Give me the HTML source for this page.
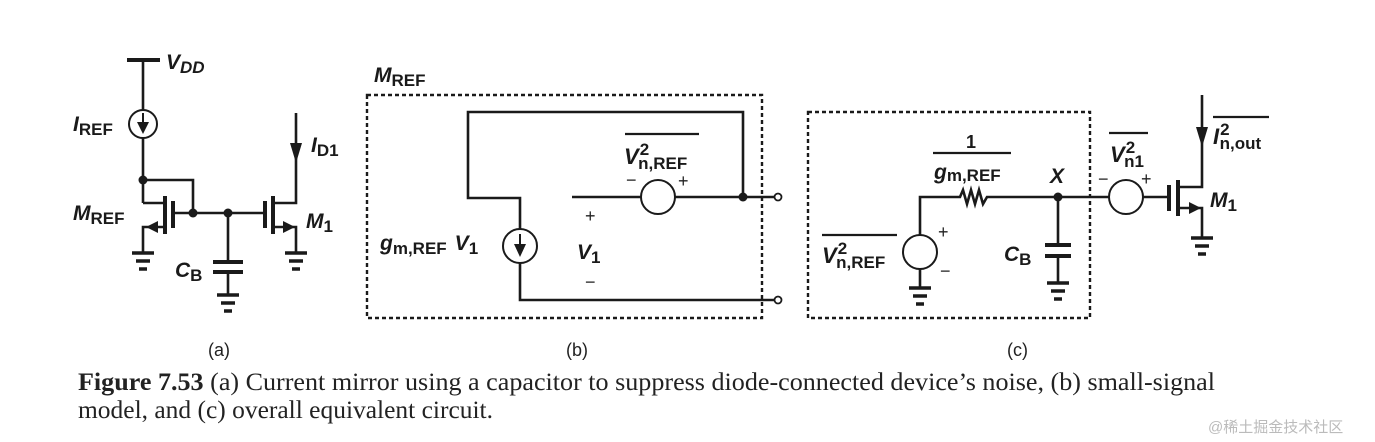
<!DOCTYPE html>
<html><head><meta charset="utf-8"><style>
html,body{margin:0;padding:0;background:#fff;}
svg{display:block;}
.l{font-family:"Liberation Sans",sans-serif;font-weight:bold;fill:#1a1a1a;}
.i{font-style:italic;}
.n{font-family:"Liberation Sans",sans-serif;fill:#222;}
.c{font-family:"Liberation Serif",serif;fill:#222;font-size:25px;}
</style></head><body>
<svg width="1375" height="442" viewBox="0 0 1375 442" xmlns="http://www.w3.org/2000/svg">
<g stroke="#1a1a1a" stroke-width="2.6" fill="none">
<line x1="127" y1="60" x2="160" y2="60" stroke-width="4"/>
<line x1="143" y1="60" x2="143" y2="110"/>
<circle cx="143" cy="124" r="14" stroke-width="2"/>
<line x1="143" y1="113" x2="143" y2="124" stroke-width="2"/>
<line x1="143" y1="138" x2="143" y2="203"/>
<polyline points="143,180 193,180 193,213"/>
<polyline points="143,203 165,203"/>
<line x1="165" y1="196" x2="165" y2="234" stroke-width="4"/>
<line x1="173" y1="201" x2="173" y2="228" stroke-width="4"/>
<line x1="173" y1="213" x2="265" y2="213"/>
<line x1="265" y1="201" x2="265" y2="228" stroke-width="4"/>
<line x1="273" y1="196" x2="273" y2="234" stroke-width="4"/>
<polyline points="273,203 296,203 296,113"/>
<polyline points="165,227 143,227 143,253"/>
<polyline points="273,227 296,227 296,253"/>
<line x1="228" y1="213" x2="228" y2="262"/>
<line x1="213" y1="262" x2="243" y2="262" stroke-width="4"/>
<line x1="213" y1="272" x2="243" y2="272" stroke-width="4"/>
<line x1="228" y1="272" x2="228" y2="295"/>
<rect x="367" y="95" width="395" height="223" stroke-dasharray="4,3" stroke-width="2.4"/>
<polyline points="520,229 520,198 468,198 468,112 743,112 743,197"/>
<circle cx="520" cy="246" r="17" stroke-width="2"/>
<line x1="520" y1="234" x2="520" y2="246" stroke-width="2"/>
<polyline points="520,263 520,300 775,300"/>
<line x1="572" y1="197" x2="641" y2="197"/>
<circle cx="658" cy="197" r="17" stroke-width="2"/>
<line x1="675" y1="197" x2="775" y2="197"/>
<rect x="808" y="112" width="282" height="206" stroke-dasharray="4,3" stroke-width="2.4"/>
<circle cx="920" cy="252" r="17" stroke-width="2"/>
<polyline points="920,235 920,197 960,197 963,190 967,204 971,190 975,204 979,190 983,204 987,197 1109,197"/>
<line x1="920" y1="269" x2="920" y2="288"/>
<line x1="1058" y1="197" x2="1058" y2="245"/>
<line x1="1045" y1="245" x2="1071" y2="245" stroke-width="4"/>
<line x1="1045" y1="256" x2="1071" y2="256" stroke-width="4"/>
<line x1="1058" y1="256" x2="1058" y2="283"/>
<circle cx="1126" cy="197" r="17" stroke-width="2"/>
<line x1="1143" y1="197" x2="1169" y2="197"/>
<line x1="1169" y1="185" x2="1169" y2="211" stroke-width="4"/>
<line x1="1178" y1="180" x2="1178" y2="216" stroke-width="4"/>
<polyline points="1178,187 1202,187 1202,95"/>
<polyline points="1178,208 1202,208 1202,238"/>
<g stroke-width="2.2">
<line x1="625" y1="134" x2="699" y2="134"/>
<line x1="933" y1="153" x2="1011" y2="153"/>
<line x1="1109" y1="133" x2="1148" y2="133"/>
<line x1="1213" y1="117" x2="1269" y2="117"/>
<line x1="822" y1="235" x2="897" y2="235"/>
</g>
</g>
<g fill="#fff" stroke="#1a1a1a" stroke-width="1.8">
<circle cx="778" cy="197" r="3.5"/><circle cx="778" cy="300" r="3.5"/>
</g>
<g fill="#1a1a1a">
<circle cx="143" cy="180" r="4.5"/><circle cx="193" cy="213" r="4.5"/><circle cx="228" cy="213" r="4.5"/>
<circle cx="743" cy="197" r="4.5"/><circle cx="1058" cy="197" r="4.5"/>
<polygon points="137,122 149,122 143,134"/>
<polygon points="514,244 526,244 520,257"/>
<polygon points="290,143 302,143 296,163"/>
<polygon points="1196,127 1208,127 1202,147"/>
<polygon points="146,227 158,221 158,233"/>
<polygon points="295,227 283,221 283,233"/>
<polygon points="1201,208 1189,202 1189,214"/>
</g>
<g stroke="#1a1a1a" stroke-width="3.5">
<line x1="132" y1="253" x2="154" y2="253"/><line x1="136" y1="261" x2="150" y2="261"/><line x1="139" y1="269" x2="147" y2="269"/>
<line x1="285" y1="253" x2="307" y2="253"/><line x1="289" y1="261" x2="303" y2="261"/><line x1="292" y1="269" x2="300" y2="269"/>
<line x1="217" y1="295" x2="239" y2="295"/><line x1="221" y1="303" x2="235" y2="303"/><line x1="224" y1="311" x2="232" y2="311"/>
<line x1="909" y1="288" x2="931" y2="288"/><line x1="913" y1="296" x2="927" y2="296"/><line x1="916" y1="304" x2="924" y2="304"/>
<line x1="1047" y1="283" x2="1069" y2="283"/><line x1="1051" y1="291" x2="1065" y2="291"/><line x1="1054" y1="299" x2="1062" y2="299"/>
<line x1="1191" y1="238" x2="1213" y2="238"/><line x1="1195" y1="246" x2="1209" y2="246"/><line x1="1198" y1="254" x2="1206" y2="254"/>
</g>
<text class="l i" x="166" y="69" font-size="21">V<tspan font-size="17" dy="4">DD</tspan></text>
<text class="l" x="73" y="131" font-size="21"><tspan class="i">I</tspan><tspan font-size="17" dy="4">REF</tspan></text>
<text class="l" x="73" y="220" font-size="21"><tspan class="i">M</tspan><tspan font-size="17" dy="4">REF</tspan></text>
<text class="l" x="306" y="228" font-size="21"><tspan class="i">M</tspan><tspan font-size="17" dy="4">1</tspan></text>
<text class="l" x="311" y="152" font-size="21"><tspan class="i">I</tspan><tspan font-size="17" dy="4">D1</tspan></text>
<text class="l" x="175" y="277" font-size="21"><tspan class="i">C</tspan><tspan font-size="17" dy="4">B</tspan></text>
<text class="l" x="374" y="82" font-size="21"><tspan class="i">M</tspan><tspan font-size="17" dy="4">REF</tspan></text>
<text class="l" x="380" y="250" font-size="21"><tspan class="i">g</tspan><tspan font-size="17" dy="4">m,REF</tspan><tspan class="i" font-size="21" dx="8" dy="-4">V</tspan><tspan font-size="17" dy="4">1</tspan></text>
<text class="l" x="577" y="259" font-size="21"><tspan class="i">V</tspan><tspan font-size="17" dy="4">1</tspan></text>
<text class="n" x="585" y="222" font-size="18">+</text>
<text class="n" x="585" y="288" font-size="18">−</text>
<text class="l" x="624" y="164" font-size="22"><tspan class="i">V</tspan><tspan font-size="17" dx="1" dy="-9">2</tspan><tspan font-size="17" dx="-11" dy="14">n,REF</tspan></text>
<text class="n" x="626" y="186" font-size="18">−</text>
<text class="n" x="678" y="187" font-size="18">+</text>
<text class="l" x="966" y="148" font-size="18">1</text>
<text class="l" x="934" y="179" font-size="21"><tspan class="i">g</tspan><tspan font-size="17" dy="2">m,REF</tspan></text>
<text class="l i" x="1050" y="183" font-size="21">X</text>
<text class="l" x="1004" y="261" font-size="21"><tspan class="i">C</tspan><tspan font-size="17" dy="4">B</tspan></text>
<text class="n" x="938" y="238" font-size="18">+</text>
<text class="n" x="940" y="277" font-size="18">−</text>
<text class="l" x="822" y="263" font-size="22"><tspan class="i">V</tspan><tspan font-size="17" dx="1" dy="-9">2</tspan><tspan font-size="17" dx="-11" dy="14">n,REF</tspan></text>
<text class="l" x="1110" y="162" font-size="22"><tspan class="i">V</tspan><tspan font-size="17" dx="1" dy="-9">2</tspan><tspan font-size="17" dx="-11" dy="14">n1</tspan></text>
<text class="n" x="1098" y="185" font-size="18">−</text>
<text class="n" x="1141" y="185" font-size="18">+</text>
<text class="l" x="1213" y="144" font-size="22"><tspan class="i">I</tspan><tspan font-size="17" dx="1" dy="-9">2</tspan><tspan font-size="17" dx="-10" dy="14">n,out</tspan></text>
<text class="l" x="1210" y="207" font-size="21"><tspan class="i">M</tspan><tspan font-size="17" dy="4">1</tspan></text>
<text class="n" x="208" y="356" font-size="18">(a)</text>
<text class="n" x="566" y="356" font-size="18">(b)</text>
<text class="n" x="1007" y="356" font-size="18">(c)</text>
<text class="c" x="78" y="390" textLength="1137" lengthAdjust="spacingAndGlyphs"><tspan font-weight="bold">Figure 7.53</tspan>   (a) Current mirror using a capacitor to suppress diode-connected device’s noise, (b) small-signal</text>
<text class="c" x="78" y="418" textLength="415" lengthAdjust="spacingAndGlyphs">model, and (c) overall equivalent circuit.</text>
<text x="1208" y="432" font-family="'Liberation Sans','Noto Sans CJK SC',sans-serif" font-size="15" fill="#bbb">@稀土掘金技术社区</text>
</svg>
</body></html>
